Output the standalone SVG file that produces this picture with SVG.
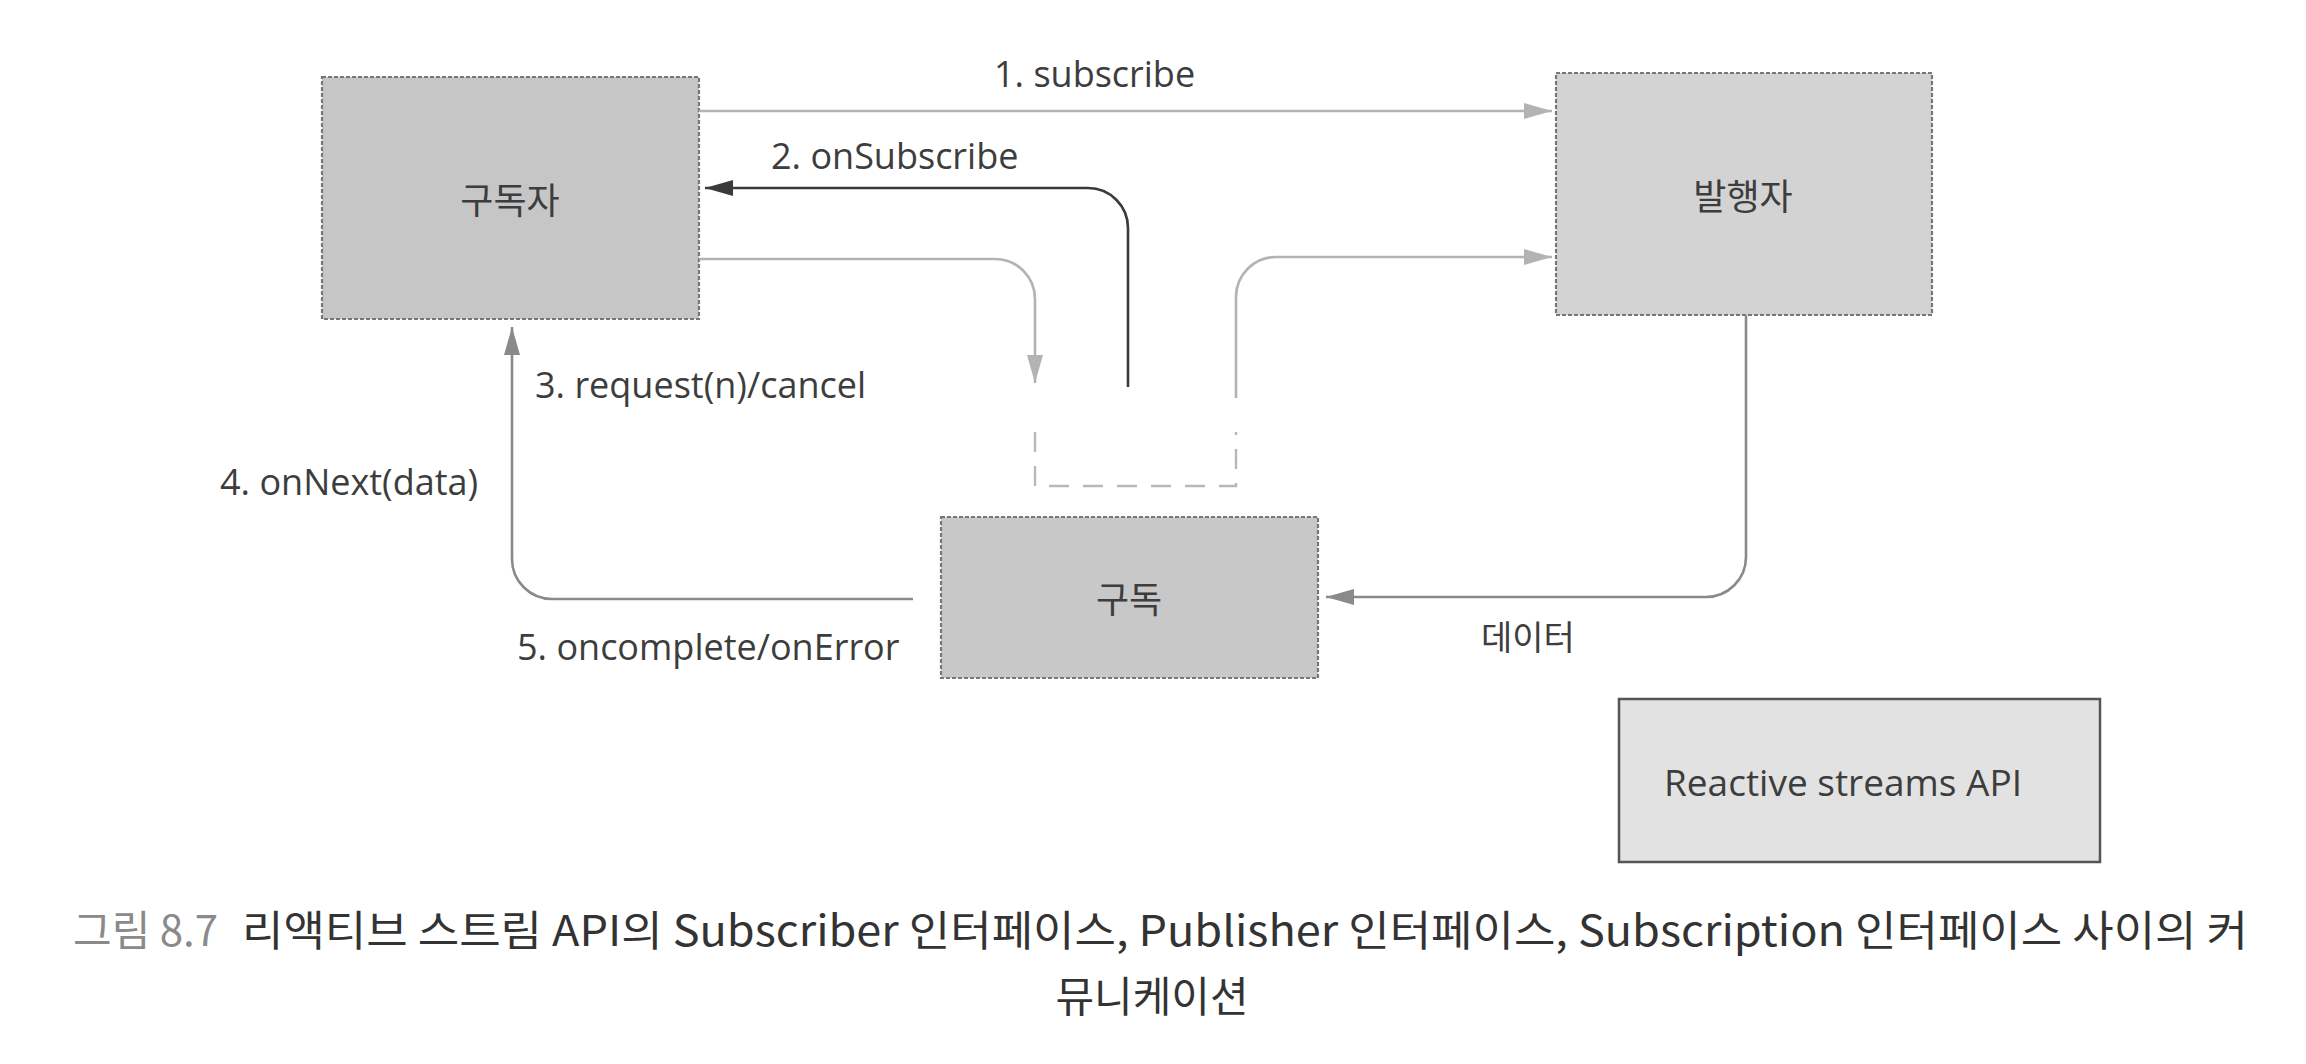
<svg xmlns="http://www.w3.org/2000/svg" width="2306" height="1064" viewBox="0 0 2306 1064">
<style>
.box{stroke:#777;stroke-width:2.2;stroke-dasharray:4 2}
.lbl{font-family:"Open Sans","Noto Sans CJK KR",sans-serif;font-size:36px;fill:#3d3d3d}
.kr{font-family:"Noto Sans CJK KR",sans-serif;font-size:36px;fill:#3d3d3d}
.cap{font-family:"Noto Sans CJK KR",sans-serif;font-size:42px;font-weight:400}
.c{fill:none;stroke-width:2.6}
.light{stroke:#b3b3b3}
.mid{stroke:#8a8a8a}
.dark{stroke:#3a3a3a}
</style>
<defs>
<marker id="aL" markerUnits="userSpaceOnUse" markerWidth="28" markerHeight="16" refX="28" refY="8" orient="auto"><path d="M0,0 L28,8 L0,16 z" fill="#b3b3b3"/></marker>
<marker id="aM" markerUnits="userSpaceOnUse" markerWidth="28" markerHeight="16" refX="28" refY="8" orient="auto"><path d="M0,0 L28,8 L0,16 z" fill="#8a8a8a"/></marker>
<marker id="aD" markerUnits="userSpaceOnUse" markerWidth="28" markerHeight="16" refX="28" refY="8" orient="auto"><path d="M0,0 L28,8 L0,16 z" fill="#3a3a3a"/></marker>
</defs>
<rect width="2306" height="1064" fill="#ffffff"/>

<g id="subscriber">
<rect class="box" x="322" y="77" width="377" height="242" fill="#c6c6c6"/>
<text class="kr" x="510" y="214" text-anchor="middle">구독자</text>
</g>
<g id="publisher">
<rect class="box" x="1556" y="73" width="376" height="242" fill="#d3d3d3"/>
<text class="kr" x="1743" y="210" text-anchor="middle">발행자</text>
</g>
<g id="subscription">
<rect class="box" x="941" y="517" width="377" height="161" fill="#c8c8c8"/>
<text class="kr" x="1129" y="613" text-anchor="middle">구독</text>
</g>
<g id="subscription-slot">
<path d="M1035,432 L1035,486 L1236,486 L1236,432" fill="none" stroke="#b8b8b8" stroke-width="2.4" stroke-dasharray="20 14"/>
</g>
<g id="legend">
<rect x="1619" y="699" width="481" height="163" fill="#e2e2e2" stroke="#555" stroke-width="2.5"/>
<text class="lbl" x="1664" y="796" style="font-size:37px">Reactive streams API</text>
</g>

<g id="connectors">
<path class="c light" d="M699,111 L1552,111" marker-end="url(#aL)"/>
<path class="c dark" d="M1128,387 L1128,228 A40,40 0 0 0 1088,188 L705,188" marker-end="url(#aD)"/>
<path class="c light" d="M699,259 L995,259 A40,40 0 0 1 1035,299 L1035,383" marker-end="url(#aL)"/>
<path class="c light" d="M1236,398 L1236,297 A40,40 0 0 1 1276,257 L1552,257" marker-end="url(#aL)"/>
<path class="c mid" d="M1746,315 L1746,557 A40,40 0 0 1 1706,597 L1326,597" marker-end="url(#aM)"/>
<path class="c mid" d="M913,599 L552,599 A40,40 0 0 1 512,559 L512,327" marker-end="url(#aM)"/>
<text class="lbl" x="994" y="87">1. subscribe</text>
<text class="lbl" x="771" y="169">2. onSubscribe</text>
<text class="lbl" x="535" y="398">3. request(n)/cancel</text>
<text class="lbl" x="220" y="495">4. onNext(data)</text>
<text class="lbl" x="517" y="660">5. oncomplete/onError</text>
<text class="kr" x="1481" y="650" style="font-size:34px">데이터</text>
</g>

<g id="caption">
<text class="cap" x="73" y="946" fill="#8a8a8a">그림 8.7</text>
<text class="cap" x="242" y="946" fill="#333333" textLength="2006" lengthAdjust="spacingAndGlyphs">리액티브 스트림 API의 Subscriber 인터페이스, Publisher 인터페이스, Subscription 인터페이스 사이의 커</text>
<text class="cap" x="1152" y="1012" fill="#333333" text-anchor="middle">뮤니케이션</text>
</g>
</svg>
